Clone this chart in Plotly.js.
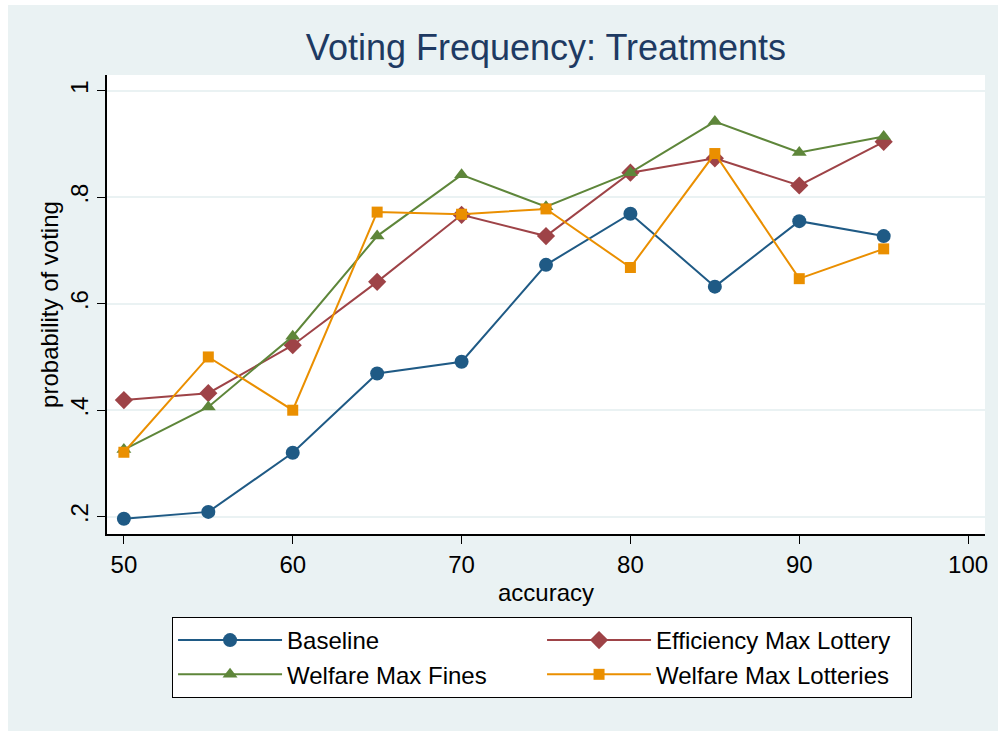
<!DOCTYPE html>
<html>
<head>
<meta charset="utf-8">
<script src="https://cdn.plot.ly/plotly-3.0.1.min.js"></script>
<style>
html, body { margin: 0; padding: 0; background: #ffffff; }
#chart { position: absolute; left: 8px; top: 5px; width: 990px; height: 726px; }
</style>
</head>
<body>
<div id="chart"></div>
<script>
const accuracy = [50, 55, 60, 65, 70, 75, 80, 85, 90, 95];
const baseline = [0.196, 0.209, 0.320, 0.469, 0.491, 0.673, 0.769, 0.632, 0.755, 0.727];
const efficiencyMaxLottery = [0.419, 0.432, 0.522, 0.641, 0.767, 0.727, 0.846, 0.873, 0.822, 0.904];
const welfareMaxFines = [0.326, 0.406, 0.539, 0.727, 0.842, 0.782, 0.846, 0.942, 0.884, 0.914];
const welfareMaxLotteries = [0.321, 0.500, 0.400, 0.772, 0.768, 0.778, 0.668, 0.882, 0.647, 0.703];
const xTicks = [50, 60, 70, 80, 90, 100];
const yTicks = [0.2, 0.4, 0.6, 0.8, 1.0];
const yTickText = ['.2', '.4', '.6', '.8', '1'];

const font = 'Liberation Sans, Arial, Helvetica, sans-serif';

function series(name, y, color, symbol, size) {
  return {
    type: 'scatter', mode: 'lines+markers', name: name,
    x: accuracy, y: y,
    line: { color: color, width: 2 },
    marker: { color: color, symbol: symbol, size: size, line: { width: 0 } }
  };
}

const data = [
  series('Baseline', baseline, '#1F5A85', 'circle', 14),
  series('Efficiency Max Lottery', efficiencyMaxLottery, '#9E4347', 'diamond', 14),
  series('Welfare Max Fines', welfareMaxFines, '#5E863A', 'triangle-up', 13),
  series('Welfare Max Lotteries', welfareMaxLotteries, '#EA8F00', 'square', 11)
];

const layout = {
  width: 990, height: 726,
  paper_bgcolor: '#EAF2F3',
  plot_bgcolor: '#FFFFFF',
  margin: { l: 99, r: 13, t: 70, b: 197 },
  font: { family: font, size: 24, color: '#000000' },
  title: {
    text: 'Voting Frequency: Treatments',
    font: { family: font, size: 36, color: '#1E3A62' },
    x: 0.5, xref: 'paper', xanchor: 'center',
    y: 0.942, yref: 'container', yanchor: 'middle'
  },
  xaxis: {
    range: [49, 101],
    tickvals: xTicks,
    ticks: 'outside', ticklen: 8, tickwidth: 1.2, tickcolor: '#000',
    showgrid: false, zeroline: false,
    showline: true, linecolor: '#000', linewidth: 1.5,
    tickfont: { family: font, size: 24, color: '#000' },
    title: { text: 'accuracy', font: { family: font, size: 24, color: '#000' }, standoff: 8 }
  },
  yaxis: {
    range: [0.1675, 1.0295],
    tickvals: yTicks, ticktext: yTickText,
    tickangle: -90,
    ticks: 'outside', ticklen: 8, tickwidth: 1.2, tickcolor: '#000',
    showgrid: true, gridcolor: '#EAF2F3', gridwidth: 2,
    zeroline: false,
    showline: true, linecolor: '#000', linewidth: 1.5,
    tickfont: { family: font, size: 24, color: '#000' },
    title: { text: 'probability of voting', font: { family: font, size: 24, color: '#000' }, standoff: 0 }
  },
  showlegend: true,
  legend: {
    orientation: 'h',
    xref: 'container', yref: 'container',
    x: 0.1657, xanchor: 'left',
    y: 0.157, yanchor: 'top',
    entrywidth: 250, entrywidthmode: 'pixels',
    itemwidth: 104,
    bgcolor: '#FFFFFF', bordercolor: '#000000', borderwidth: 1,
    font: { family: font, size: 24, color: '#000' },
    traceorder: 'normal'
  }
};

Plotly.newPlot('chart', data, layout, { displayModeBar: false, responsive: false });
</script>
</body>
</html>
